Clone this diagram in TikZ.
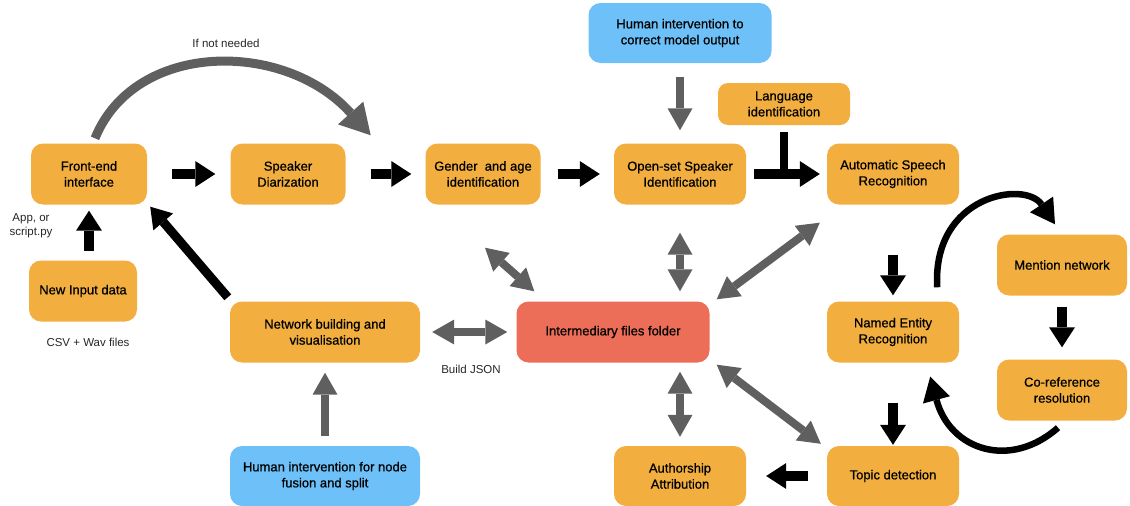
\documentclass[tikz,border=0pt]{standalone}
\usepackage{fontspec}
\setmainfont{Liberation Sans}
\newfontfamily\boxfont[FakeBold=0.7]{Liberation Sans}
\usetikzlibrary{arrows.meta,calc}
\definecolor{boxorange}{HTML}{F2AF40}
\definecolor{boxblue}{HTML}{6EC0F8}
\definecolor{boxred}{HTML}{EC6E59}
\definecolor{arrgray}{HTML}{5F5F5F}
\begin{document}
\begin{tikzpicture}[x=1pt,y=-1pt,
  box/.style={fill=boxorange, rounded corners=12pt, align=center, inner sep=2pt,
    font=\boxfont\fontsize{13}{16}\selectfont, minimum height=61pt, minimum width=132pt},
  bluebox/.style={box, fill=boxblue},
  redbox/.style={box, fill=boxred},
  lbl/.style={font=\fontsize{11.5}{14}\selectfont, align=center, text=black!85},
  blk/.style={draw=black, line width=10pt, -{Triangle[length=20pt,width=26pt,line width=0pt]}},
  blkline/.style={draw=black, line width=8pt},
  gry/.style={draw=arrgray, line width=8pt, -{Triangle[length=22pt,width=25pt,line width=0pt]}},
  dgry/.style={draw=arrgray, line width=8pt, {Triangle[length=22pt,width=25pt,line width=0pt]}-{Triangle[length=22pt,width=25pt,line width=0pt]}},
  garc/.style={draw=arrgray, line width=9pt, -{Triangle[length=30pt,width=34pt,line width=0pt]}},
  barc/.style={draw=black, line width=6.5pt, -{Triangle[length=24pt,width=28pt,line width=0pt]}}]
\useasboundingbox (0,0) rectangle (1130,506);

% nodes
\node[box, minimum width=116pt] (fe) at (89,174) {Front-end\\interface};
\node[box, minimum width=115pt] (sd) at (288,174) {Speaker\\Diarization};
\node[box, minimum width=115pt] (ga) at (483,174) {Gender\ \ and age\\identification};
\node[box] (os) at (680,174) {Open-set Speaker\\Identification};
\node[box] (asr) at (893,174) {Automatic Speech\\Recognition};
\node[bluebox, minimum width=183pt, minimum height=60pt] (hc) at (680,33) {Human intervention to\\correct model output};
\node[box, minimum height=42pt, rounded corners=10pt] (lang) at (784,104) {Language\\identification};
\node[box, minimum width=108pt] (ni) at (83,291) {New Input data};
\node[box, minimum width=190pt] (nb) at (325,332) {Network building and\\visualisation};
\node[redbox, minimum width=193pt] (if) at (613,332) {Intermediary files folder};
\node[bluebox, minimum width=190pt, minimum height=60pt] (hn) at (325,476) {Human intervention for node\\fusion and split};
\node[box] (ner) at (893,332) {Named Entity\\Recognition};
\node[box, minimum width=130pt] (mn) at (1062,265) {Mention network};
\node[box, minimum width=130pt] (cr) at (1062,390) {Co-reference\\resolution};
\node[box, minimum height=60pt] (td) at (893,476) {Topic detection};
\node[box, minimum height=60pt] (aa) at (680,476) {Authorship\\Attribution};

% labels
\node[lbl] (l1) at (226,43) {If not needed};
\node[lbl] (l2) at (31,226) {App, or\\script.py};
\node[lbl] (l3) at (88,342) {CSV + Wav files};
\node[lbl] (l4) at (471,369) {Build JSON};

% main chain
\draw[blk, shorten <=25pt, shorten >=15pt] (fe) -- (sd);
\draw[blk, shorten <=25pt, shorten >=14pt] (sd) -- (ga);
\draw[blk, shorten <=17pt, shorten >=14pt] (ga) -- (os);
\draw[blkline] ([yshift=-7pt]lang.south) -- (lang.south |- os.east);
\draw[blk, shorten <=8pt, shorten >=7pt] (os) -- (asr);
\draw[gry, shorten <=14pt, shorten >=13pt] (hc) -- (os);
\draw[blk] ([yshift=-46pt]fe.south) -- ([yshift=-6pt]fe.south);
\draw[blk, line width=9pt] ([shift={(-2,-4)}]nb.north west) -- ([shift={(3,2)}]fe.south east);
\draw[garc] ([shift={(6,-5)}]fe.north) .. controls (135,40) and (285,40) .. ([shift={(25,-8)}]sd.north east);
\draw[gry, shorten <=10pt, shorten >=10pt] (hn) -- (nb);

% intermediary connections
\draw[dgry, shorten <=12pt, shorten >=9pt] (nb) -- (if);
\draw[dgry] ([shift={(2,43)}]ga.south) -- ([shift={(18,-10)}]if.north west);
\draw[dgry] ([yshift=-28pt]os.south) -- ([yshift=10pt]os.south |- if.north);
\draw[dgry] ([shift={(-7,18)}]asr.south west) -- ([shift={(7,-2)}]if.north east);
\draw[dgry] ([yshift=-9pt]aa.north |- if.south) -- ([yshift=9pt]aa.north);
\draw[dgry] ([shift={(7,2)}]if.south east) -- ([shift={(-6,-2)}]td.north west);

% NLP part
\draw[blk, shorten <=50pt, shorten >=6pt] (asr) -- (ner);
\draw[blk, shorten <=40pt, shorten >=1pt] (ner) -- (td);
\draw[blk, shorten <=19pt, shorten >=20pt] (td) -- (aa);
\draw[blk, shorten <=11pt, shorten >=12pt] (mn) -- (cr);
\draw[barc] ([shift={(-22,-14)}]ner.north east) .. controls (932,195) and (1025,180) .. ([shift={(-7,-10)}]mn.north);
\draw[barc] ([shift={(-4,7)}]cr.south) .. controls (1010,470) and (950,450) .. ([shift={(-29,14)}]ner.south east);
\end{tikzpicture}
\end{document}
